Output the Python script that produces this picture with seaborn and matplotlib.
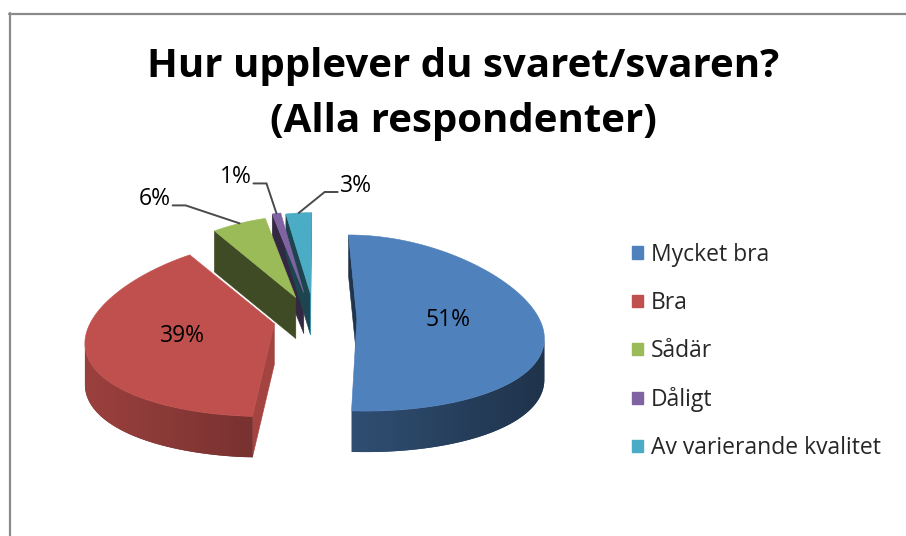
import numpy as np
import matplotlib
matplotlib.use("Agg")
import matplotlib.pyplot as plt
from matplotlib.patches import Patch, Polygon
from matplotlib.lines import Line2D
import seaborn as sns

# Values
categories = ["Mycket bra", "Bra", "Sådär", "Dåligt", "Av varierande kvalitet"]
shares = [51, 39, 6, 1, 3]
pct_labels = ["51%", "39%", "6%", "1%", "3%"]
hex_colors = ["#4F81BD", "#C0504D", "#9BBB59", "#8064A2", "#4BACC6"]
explode = [0.23, 0.23, 0.26, 0.30, 0.28]
title_lines = ["Hur upplever du svaret/svaren?", "(Alla respondenter)"]

sns.set_theme(style="white")
plt.rcParams["font.family"] = ["Open Sans", "DejaVu Sans"]
palette = sns.color_palette(hex_colors)

W, H = 906, 536
fig = plt.figure(figsize=(W / 100, H / 100), dpi=100)
ax = fig.add_axes([0, 0, 1, 1])
ax.axis("off")

# 3D pie geometry in pixels (centre, radii, thickness)
CX, CY, RX, RY, DEPTH = 315, 318, 182, 88, 41


def proj(X, Y, z=0.0):
    # simple perspective: back of the pie is drawn narrower
    s = 1 - 0.2 * Y
    t = 1 - 0.05 * Y
    return (CX + RX * X * s, CY - RY * Y * t + z)


def rim(ox, oy, deg, r=1.0):
    th = np.radians(deg)
    return ox + r * np.sin(th), oy + r * np.cos(th)


def shade(c, f):
    return tuple(np.clip(np.array(c) * f, 0, 1))


def signed_area(pts):
    x, y = np.array(pts).T
    return 0.5 * np.sum(x * np.roll(y, -1) - np.roll(x, -1) * y)


fracs = np.array(shares) / np.sum(shares)
edges = np.concatenate([[0], np.cumsum(fracs)]) * 360
slices = []
for i in range(len(shares)):
    a, b = edges[i], edges[i + 1]
    mid = np.radians((a + b) / 2)
    slices.append((i, a, b, explode[i] * np.sin(mid), explode[i] * np.cos(mid)))

# draw back-to-front
for i, a, b, ox, oy in sorted(slices, key=lambda s: -s[4]):
    col = palette[i]
    thetas = np.linspace(a, b, max(int(b - a) + 2, 3))

    # flat cut faces
    ra, rb = rim(ox, oy, a), rim(ox, oy, b)
    cuts = [([proj(ox, oy), proj(*ra), proj(*ra, DEPTH), proj(ox, oy, DEPTH)],
             0.4 if np.sin(np.radians(a - 90)) < 0 else 0.85),
            ([proj(*rb), proj(ox, oy), proj(ox, oy, DEPTH), proj(*rb, DEPTH)],
             0.4 if np.sin(np.radians(b + 90)) < 0 else 0.85)]
    for pts, f in cuts:
        if signed_area(pts) < 0:
            c = shade(col, f)
            ax.add_patch(Polygon(pts, closed=True, fc=c, ec=c, lw=0.4, zorder=2))

    # curved outer wall, only the part facing the viewer, with a gradient
    vis = []
    for t1, t2 in zip(thetas[:-1], thetas[1:]):
        p, q = rim(ox, oy, t1), rim(ox, oy, t2)
        if signed_area([proj(*p), proj(*q), proj(*q, DEPTH), proj(*p, DEPTH)]) < 0:
            vis += [t1, t2]
    if vis:
        tw = thetas[(thetas >= min(vis)) & (thetas <= max(vis))]
        top_pts = [proj(*rim(ox, oy, t)) for t in tw]
        bot_pts = [proj(*rim(ox, oy, t), DEPTH) for t in tw[::-1]]
        wall = Polygon(top_pts + bot_pts, closed=True, fc=shade(col, 0.55), ec="none", zorder=2)
        ax.add_patch(wall)
        xs = np.array(top_pts + bot_pts)
        x0, x1 = xs[:, 0].min(), xs[:, 0].max()
        y0, y1 = xs[:, 1].min(), xs[:, 1].max()
        cx_scr = proj(ox, oy)[0]
        gx = np.linspace(x0, x1, 200)
        f = 0.6 - 0.2 * np.clip((gx - cx_scr) / RX, -1, 1)
        img = np.array([shade(col, v) for v in f])[None, :, :]
        im = ax.imshow(img, extent=(x0, x1, y1, y0), aspect="auto",
                       interpolation="bilinear", zorder=2.1)
        im.set_clip_path(wall)

    top = [proj(ox, oy)] + [proj(*rim(ox, oy, t)) for t in thetas]
    ax.add_patch(Polygon(top, closed=True, fc=col, ec=col, lw=0.4, zorder=2.2))

    mid = (a + b) / 2
    if i < 2:
        lx, ly = proj(*rim(ox, oy, mid, 0.5))
        ax.text(lx, ly, pct_labels[i], ha="center", va="center", fontsize=16.5,
                color="black", zorder=5)

# outside labels with leader lines for the thin slices
leader_offsets = {2: (-54, -18, -1), 3: (-10, -30, -1), 4: (26, -21, 1)}
for i, a, b, ox, oy in slices:
    if i not in leader_offsets:
        continue
    dx, dy, side = leader_offsets[i]
    axp, ayp = proj(*rim(ox, oy, (a + b) / 2, 1.0))
    ex, ey = axp + dx, ayp + dy
    hx = ex + side * 13
    ax.plot([axp, ex, hx], [ayp, ey, ey], color="#4a4a4a", lw=1.4, zorder=4,
            solid_joinstyle="miter")
    ax.text(hx + side * 2, ey - 6, pct_labels[i], ha="left" if side > 0 else "right",
            va="center", fontsize=16.5, color="black", zorder=5)

# title
for txt, base in zip(title_lines, [77, 132]):
    ax.text(463, base, txt, ha="center", va="baseline", fontsize=29,
            fontweight="bold", color="black")

# legend
handles = [Patch(facecolor=c, edgecolor=c) for c in palette]
ax.legend(handles, categories, loc="upper left", bbox_to_anchor=(632 / W, 1 - 243 / H),
          frameon=False, fontsize=16.5, handlelength=0.48, handleheight=0.48,
          handletextpad=0.35, labelspacing=1.05, borderaxespad=0, borderpad=0)

ax.set_xlim(0, W)
ax.set_ylim(H, 0)

# chart frame (top and left edges visible in the crop)
fig.add_artist(Line2D([9.5 / W, 9.5 / W], [0, 1 - 13 / H], color="#8a8a8a", lw=1.6))
fig.add_artist(Line2D([9 / W, 1], [1 - 13.5 / H, 1 - 13.5 / H], color="#8a8a8a", lw=1.6))

fig.savefig("out.png", dpi=100, facecolor="white")
